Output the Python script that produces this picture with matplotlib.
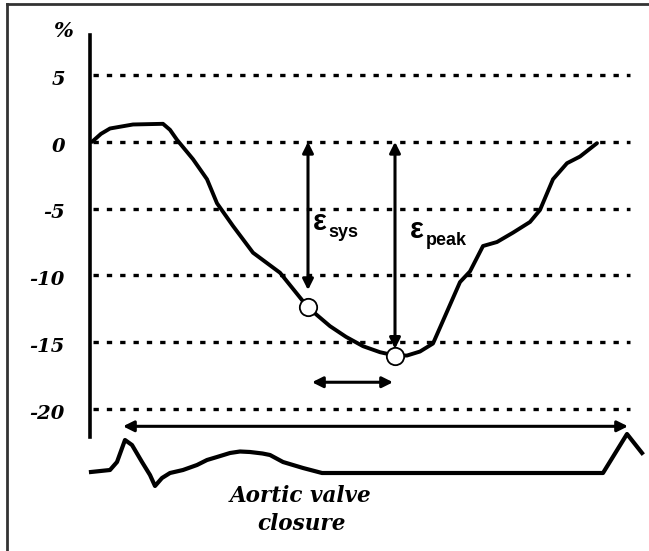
import matplotlib
matplotlib.use('Agg')
import matplotlib.pyplot as plt
from matplotlib.lines import Line2D
from matplotlib.font_manager import FontProperties

# strain curve (time in ms, strain in %)
strain_t = [4, 22, 40, 86, 146, 160, 174, 206, 234, 254, 286, 326, 380, 436, 480, 512, 546, 580, 610,
            634, 660, 686, 740, 760, 786, 814, 846, 880, 900, 926, 954, 980, 1014]
strain_val = [0.0, 0.6, 1.0, 1.3, 1.35, 0.9, 0.15, -1.3, -2.8, -4.6, -6.3, -8.3, -9.8, -12.4, -13.8, -14.6,
              -15.3, -15.75, -16.0, -16.0, -15.7, -15.1, -10.5, -9.7, -7.8, -7.5, -6.8, -6.0, -5.1,
              -2.8, -1.6, -1.1, -0.1]

# marked points: end systole and peak strain
mark_t = [436, 610]
mark_val = [-12.4, -16.0]

# ECG trace underneath (arbitrary units)
ecg_t = [2, 40, 54, 70, 84, 104, 120, 130, 144, 160, 186, 214, 234, 254, 280, 300, 320,
         345, 360, 386, 426, 464, 1026, 1074, 1104]
ecg_val = [0.1, 0.3, 1.1, 3.3, 2.8, 1.1, -0.2, -1.3, -0.5, 0.0, 0.3, 0.8, 1.3, 1.6, 2.0, 2.15, 2.1,
           1.95, 1.8, 1.1, 0.5, 0.0, 0.0, 3.9, 2.0]

grid_levels = [5, 0, -5, -10, -15, -20]
tick_labels = ['5', '0', '-5', '-10', '-15', '-20']

def serif(size):
    return FontProperties(family='DejaVu Serif', weight='bold', style='italic', size=size)

def sans(size):
    return FontProperties(family='Liberation Sans', weight='bold', size=size)

fig = plt.figure(figsize=(6.49, 5.51), dpi=100)
W, H = 649, 551

# main strain axes
ax = fig.add_axes([90 / W, (H - 437) / H, (W - 90) / W, 402 / H])
ax.set_xlim(0, 1118)
ax.set_ylim(-22.1, 8.0)
for s in ['top', 'right', 'bottom']:
    ax.spines[s].set_visible(False)
ax.spines['left'].set_linewidth(2.6)
ax.set_xticks([])
ax.set_yticks([])

for lv, lab in zip(grid_levels, tick_labels):
    ax.text(-50, lv - 0.35, lab, fontproperties=serif(14), ha='right', va='center',
            clip_on=False)

for lv in grid_levels:
    ax.plot([6, 1080], [lv, lv], color='black', lw=2.4,
            linestyle=(0, (1.6, 2.4)), zorder=1)

ax.plot(strain_t, strain_val, color='black', lw=2.8, zorder=3,
        solid_capstyle='round', solid_joinstyle='round')
ax.plot(mark_t, mark_val, 'o', ms=12.5, mfc='white', mec='black', mew=1.3, zorder=5)

arrow = dict(arrowstyle='<|-|>', color='black', lw=2.2, mutation_scale=16,
             shrinkA=0, shrinkB=0)
ax.annotate('', xy=(436, -11.1), xytext=(436, 0), arrowprops=arrow, zorder=4)
ax.annotate('', xy=(610, -15.5), xytext=(610, 0), arrowprops=arrow, zorder=4)
ax.annotate('', xy=(444, -18.0), xytext=(606, -18.0), arrowprops=arrow)
ax.annotate('', xy=(66, -21.3), xytext=(1076, -21.3), arrowprops=arrow,
            annotation_clip=False)

ax.text(446, -6.0, 'ε', fontproperties=sans(21), ha='left', va='center')
ax.text(477, -6.8, 'sys', fontproperties=sans(13), ha='left', va='center')
ax.text(640, -6.6, 'ε', fontproperties=sans(21), ha='left', va='center')
ax.text(671, -7.4, 'peak', fontproperties=sans(13), ha='left', va='center')

# ECG axes
ax2 = fig.add_axes([90 / W, (H - 495) / H, (W - 90) / W, 70 / H])
ax2.set_xlim(0, 1118)
ax2.set_ylim(-2.2, 4.8)
ax2.axis('off')
ax2.patch.set_alpha(0)
ax2.plot(ecg_t, ecg_val, color='black', lw=3.0, clip_on=False, solid_joinstyle='round')

fig.text(63 / W, 1 - 31 / H, '%', fontproperties=serif(15), ha='center', va='center')
fig.text(301 / W, 1 - 510 / H, 'Aortic valve\nclosure', fontproperties=serif(15.5),
         ha='center', va='center', linespacing=1.3)

# frame on top and left edge
fig.add_artist(Line2D([7 / W, 1.0], [1 - 4 / H, 1 - 4 / H], color='#333333', lw=2))
fig.add_artist(Line2D([7 / W, 7 / W], [0, 1 - 4 / H], color='#333333', lw=2))

fig.savefig('out.png', dpi=100)
